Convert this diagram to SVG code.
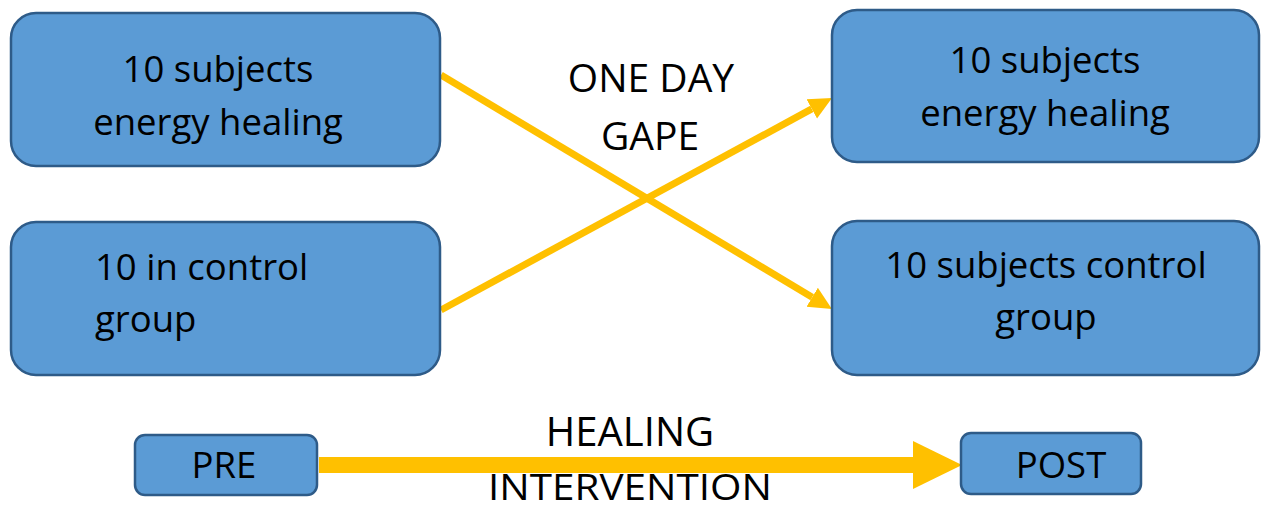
<svg xmlns="http://www.w3.org/2000/svg" width="1261" height="509" viewBox="0 0 1261 509">
<defs>
<style>
.box{fill:#5B9BD5;stroke:#2E5B88;stroke-width:2.5}
.t{font-family:"Open Sans","Liberation Sans",sans-serif;font-size:36.5px;fill:#000}
.c{text-anchor:middle}
.big{font-family:"Open Sans","Liberation Sans",sans-serif;font-size:40px;fill:#000;text-anchor:middle}
.conn{stroke:#FFC000;fill:none}
</style>
<marker id="ah" markerUnits="userSpaceOnUse" markerWidth="24" markerHeight="24" refX="0" refY="11" orient="auto" viewBox="0 0 24 22">
<path d="M0,0 L23,11 L0,22 Z" fill="#FFC000"/>
</marker>
<marker id="bigah" markerUnits="userSpaceOnUse" markerWidth="50" markerHeight="48" refX="0" refY="23.5" orient="auto" viewBox="0 0 48 47">
<path d="M0,0 L48,23.5 L0,47 Z" fill="#FFC000"/>
</marker>
</defs>
<rect width="1261" height="509" fill="#fff"/>
<g id="connectors">
<line class="conn" x1="441" y1="75" x2="812.2" y2="297.2" stroke-width="7" marker-end="url(#ah)"/>
<line class="conn" x1="441" y1="310" x2="811.8" y2="108.9" stroke-width="7" marker-end="url(#ah)"/>
<line class="conn" x1="319" y1="465" x2="913" y2="465" stroke-width="16" marker-end="url(#bigah)"/>
</g>
<g id="n1">
<rect class="box" x="11" y="13" width="429" height="153" rx="25"/>
<text class="t c" x="218" y="82">10 subjects</text>
<text class="t c" x="218" y="135">energy healing</text>
</g>
<g id="n2">
<rect class="box" x="11" y="222" width="429" height="153" rx="25"/>
<text class="t" x="95" y="280">10 in control</text>
<text class="t" x="95" y="332">group</text>
</g>
<g id="n3">
<rect class="box" x="832" y="10" width="427" height="152" rx="25"/>
<text class="t c" x="1045" y="73">10 subjects</text>
<text class="t c" x="1045" y="126">energy healing</text>
</g>
<g id="n4">
<rect class="box" x="832" y="221" width="427" height="154" rx="25"/>
<text class="t c" x="1046" y="278">10 subjects control</text>
<text class="t c" x="1046" y="330">group</text>
</g>
<g id="pre">
<rect class="box" x="135" y="435" width="182" height="60" rx="10"/>
<text class="t c" x="224" y="478">PRE</text>
</g>
<g id="post">
<rect class="box" x="961" y="433" width="180" height="61" rx="10"/>
<text class="t c" x="1061" y="478">POST</text>
</g>
<g id="labels">
<text class="big" x="651" y="92" style="font-size:39px">ONE DAY</text>
<text class="big" x="650" y="150" style="font-size:39px">GAPE</text>
<text class="big" x="630" y="446">HEALING</text>
<text class="big" x="630" y="500" style="font-size:36px" textLength="284" lengthAdjust="spacingAndGlyphs">INTERVENTION</text>
</g>
</svg>
